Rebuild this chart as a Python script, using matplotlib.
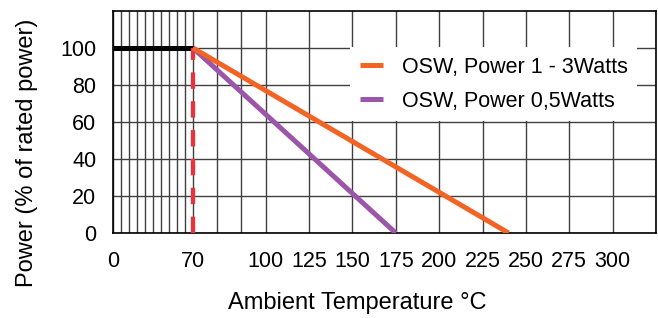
import numpy as np
import matplotlib
matplotlib.use('Agg')
import matplotlib.pyplot as plt

plt.rcParams['font.family'] = ['Liberation Sans', 'DejaVu Sans']

# derating curves
flat_temp = [0, 70]
flat_power = [100, 100]
temp_1w3 = [70, 240]
power_1w3 = [100, 0]
temp_05w = [70, 175]
power_05w = [100, 0]
knee_temp = [70, 70]
knee_power = [0, 100]

xtick_vals = [0, 70, 100, 125, 150, 175, 200, 225, 250, 275, 300]
xminor_vals = [7, 14, 21, 28, 35, 42, 49, 56, 63, 80, 90, 325]
ytick_vals = [0, 20, 40, 60, 80, 100]

# the chart squeezes 0-70 and stretches 70-100, so use a piecewise scale
scale_in = [0, 70, 100, 325]
scale_out = [0, 80, 152.7, 543]

def fwd(x):
    return np.interp(x, scale_in, scale_out)

def inv(x):
    return np.interp(x, scale_out, scale_in)

fig = plt.figure(figsize=(6.58, 3.18), dpi=100)
ax = fig.add_axes([113/658, 1-233/318, 543/658, 222/318])
ax.set_xscale('function', functions=(fwd, inv))
ax.set_xlim(0, 325)
ax.set_ylim(0, 120)

ax.set_xticks(xtick_vals)
ax.set_xticks(xminor_vals, minor=True)
ax.set_yticks(ytick_vals)
ax.set_xticklabels([str(v) for v in xtick_vals])
ax.tick_params(axis='both', which='both', length=0, labelsize=15.5)
ax.tick_params(axis='x', pad=13)
ax.tick_params(axis='y', pad=12)
ax.grid(True, which='both', color='#404040', lw=1.0)
ax.set_axisbelow(True)
for s in ax.spines.values():
    s.set_color('black')
    s.set_linewidth(1.2)

ax.plot(flat_temp, flat_power, color='black', lw=3.6, solid_capstyle='butt', zorder=3)
ax.plot(knee_temp, knee_power, color='#e8333c', lw=3.1, dashes=(3.8, 2.9), zorder=3)
ax.plot(temp_05w, power_05w, color='#9b55a9', lw=3.6, solid_capstyle='butt', zorder=4,
        label='OSW, Power 0,5Watts')
ax.plot(temp_1w3, power_1w3, color='#f26324', lw=3.6, solid_capstyle='butt', zorder=4,
        label='OSW, Power 1 - 3Watts')

h, l = ax.get_legend_handles_labels()
leg = ax.legend(h[::-1], l[::-1], loc='upper left', bbox_to_anchor=(0.4365, 0.838),
                borderaxespad=0, fontsize=15.5, frameon=True, fancybox=False,
                edgecolor='none', framealpha=1, handlelength=1.1, handletextpad=0.85,
                labelspacing=0.6, borderpad=0.45)

fig.text(357/658, 1-303/318, 'Ambient Temperature °C', fontsize=17, ha='center', va='center')
fig.text(27/658, 1-153/318, 'Power (% of rated power)', fontsize=17, ha='center', va='center',
         rotation=90)

fig.savefig('out.png', dpi=100)
